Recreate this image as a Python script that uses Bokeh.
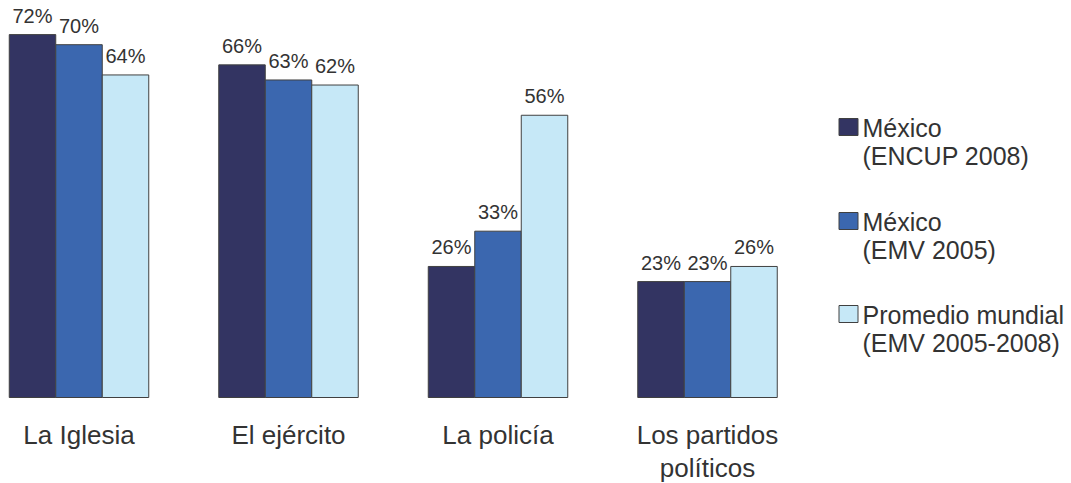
from bokeh.plotting import figure
from bokeh.models import ColumnDataSource, Range1d
from bokeh.core.properties import value
from bokeh.embed import file_html
from bokeh.resources import INLINE

categories = ["La Iglesia", "El ejército", "La policía", "Los partidos\npolíticos"]
series_first_lines = ["México", "México", "Promedio mundial"]
series_second_lines = ["(ENCUP 2008)", "(EMV 2005)", "(EMV 2005-2008)"]
mexico_encup_2008 = [72, 66, 26, 23]
mexico_emv_2005 = [70, 63, 33, 23]
promedio_mundial = [64, 62, 56, 26]
colors = ["#333462", "#3B67AF", "#C6E8F7"]

FONT = "Liberation Sans"
TXT = "#333333"
W, H = 1071, 483

# pixel <-> data mapping of the frame (frame fills the whole canvas)
PX_PER_GROUP = 209.5
X0 = -78.5 / PX_PER_GROUP
PX_PER_PCT = 5.04
Y0 = -(H - 397) / PX_PER_PCT


def dx(px):
    return X0 + px / PX_PER_GROUP


def dy(py):
    return Y0 + (H - py) / PX_PER_PCT


p = figure(width=W, height=H, output_backend="svg", toolbar_location=None,
           x_range=Range1d(X0, X0 + W / PX_PER_GROUP),
           y_range=Range1d(Y0, Y0 + H / PX_PER_PCT),
           min_border=0)
p.axis.visible = False
p.grid.visible = False
p.outline_line_color = None
p.background_fill_color = "white"
p.border_fill_color = "white"

BW = 46.5 / PX_PER_GROUP
xs = list(range(len(categories)))
offsets = [-BW, 0.0, BW]
for vals, off, col in zip([mexico_encup_2008, mexico_emv_2005, promedio_mundial], offsets, colors):
    src = ColumnDataSource(dict(x=[x + off for x in xs], top=vals, lab=[f"{v}%" for v in vals]))
    p.vbar(x="x", top="top", bottom=0, width=BW, source=src, fill_color=col,
           line_color="#404040", line_width=1)
    p.text(x="x", y="top", text="lab", source=src, text_align="center", text_baseline="middle",
           y_offset=-19, text_font=value(FONT), text_font_size="20px", text_color=TXT)

csrc = ColumnDataSource(dict(x=xs, y=[0] * len(xs), t=categories))
p.text(x="x", y="y", text="t", source=csrc, text_align="center", text_baseline="top",
       y_offset=22, text_font=value(FONT), text_font_size="26px", text_color=TXT,
       text_line_height=1.1)

# legend (drawn manually so that the swatch sits on the first line)
item_top = [118, 212, 305]
sq = ColumnDataSource(dict(x=[dx(848)] * 3, y=[dy(t + 8.5) for t in item_top], c=colors))
p.rect(x="x", y="y", width=19, height=17, width_units="screen", height_units="screen",
       source=sq, fill_color="c", line_color="#404040", line_width=1)
lt = ColumnDataSource(dict(x=[dx(862)] * 6,
                           y=[dy(t + 9) for t in item_top] + [dy(t + 37) for t in item_top],
                           t=series_first_lines + series_second_lines))
p.text(x="x", y="y", text="t", source=lt, text_align="left", text_baseline="middle",
       text_font=value(FONT), text_font_size="25px", text_color=TXT)

open("out.html", "w").write(file_html(p, INLINE))
